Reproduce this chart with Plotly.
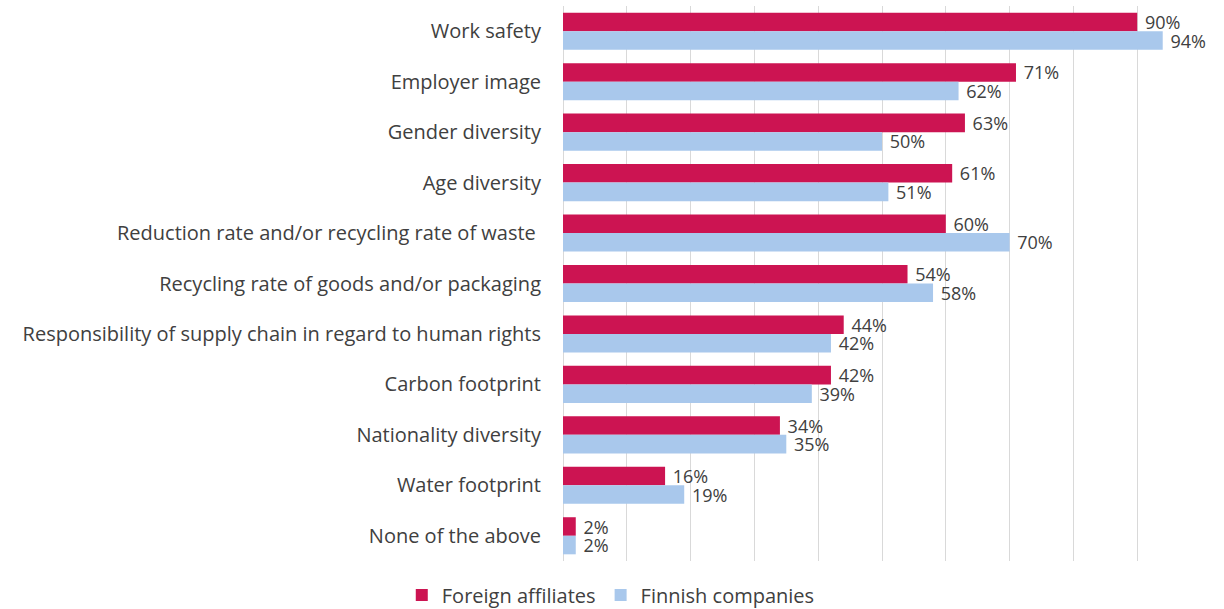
import plotly.graph_objects as go

categories = [
    "Work safety",
    "Employer image",
    "Gender diversity",
    "Age diversity",
    "Reduction rate and/or recycling rate of waste ",
    "Recycling rate of goods and/or packaging",
    "Responsibility of supply chain in regard to human rights",
    "Carbon footprint",
    "Nationality diversity",
    "Water footprint",
    "None of the above",
]
foreign = [90, 71, 63, 61, 60, 54, 44, 42, 34, 16, 2]
finnish = [94, 62, 50, 51, 70, 58, 42, 39, 35, 19, 2]

series_names = ["Foreign affiliates", "Finnish companies"]
colors = ["#CC1452", "#A9C8EC"]

FONT = "Open Sans"
TXT = "#404040"

fig = go.Figure()
for name, vals, col in zip(series_names, [foreign, finnish], colors):
    fig.add_trace(go.Bar(
        y=categories, x=vals, name=name, orientation="h",
        marker=dict(color=col, line=dict(width=0)),
        text=[f"\u00a0{v}%" for v in vals], textposition="outside",
        constraintext="none",
        textfont=dict(family=FONT, size=18, color=TXT),
        cliponaxis=False,
    ))

fig.update_layout(
    width=1224, height=609,
    margin=dict(l=563, r=23, t=6, b=48),
    barmode="group", bargap=0.265, bargroupgap=0,
    plot_bgcolor="white", paper_bgcolor="white",
    font=dict(family=FONT, size=20, color=TXT),
    showlegend=True,
    legend=dict(orientation="h", xref="container", yref="container",
                x=0.499, xanchor="center", y=0.055, yanchor="top",
                font=dict(family=FONT, size=20, color=TXT),
                itemwidth=30, traceorder="normal"),
)
fig.update_xaxes(range=[0, 100], dtick=10, showticklabels=False,
                 showgrid=True, gridcolor="#D9D9D9", gridwidth=1,
                 zeroline=True, zerolinecolor="#D9D9D9", zerolinewidth=1,
                 fixedrange=True)
fig.update_yaxes(autorange="reversed", showgrid=False, ticks="",
                 ticklabelstandoff=21, fixedrange=True,
                 tickfont=dict(family=FONT, size=20, color=TXT))

fig.write_html("out.html", config={"displayModeBar": False},
               post_script="document.body.style.margin='0';")
